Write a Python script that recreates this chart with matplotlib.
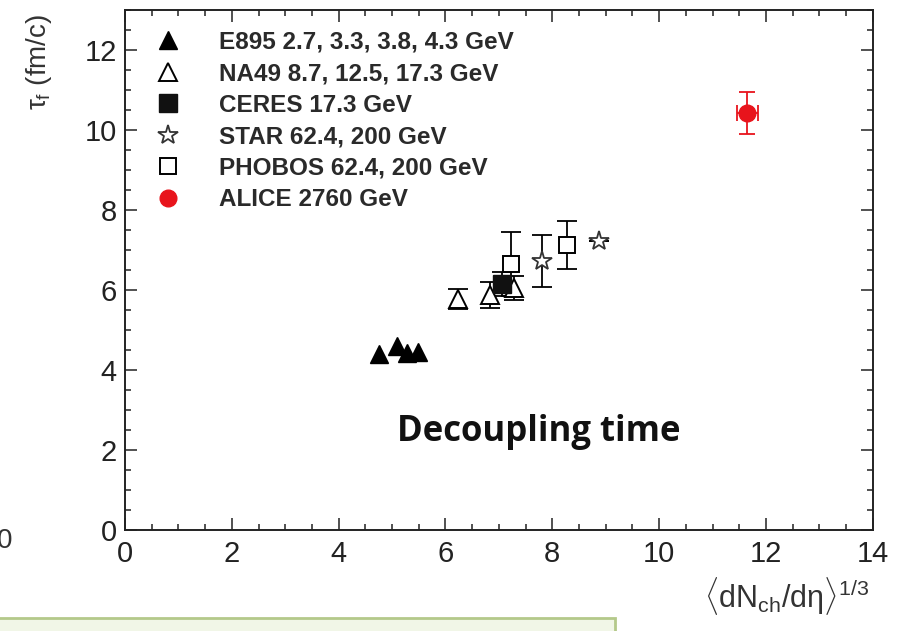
import matplotlib
matplotlib.use('Agg')
import matplotlib.pyplot as plt
from matplotlib.patches import Rectangle
from matplotlib.ticker import MultipleLocator

plt.rcParams['font.family'] = ['Liberation Sans', 'DejaVu Sans']
plt.rcParams['mathtext.fontset'] = 'custom'
plt.rcParams['mathtext.rm'] = 'Liberation Sans'
plt.rcParams['mathtext.it'] = 'Liberation Sans'
plt.rcParams['mathtext.bf'] = 'Liberation Sans:bold'

# ---------- data ----------
e895_x = [4.75, 5.1, 5.28, 5.48]
e895_y = [4.4, 4.6, 4.42, 4.45]

na49_x = [6.24, 6.84, 7.29]
na49_y = [5.78, 5.87, 6.05]
na49_err = [0.25, 0.32, 0.3]

ceres_x = [7.06]
ceres_y = [6.15]
ceres_err = [0.3]

star_x = [7.8, 8.87]
star_y = [6.72, 7.22]
star_err = [0.65, 0.0]

phobos_x = [7.22, 8.27]
phobos_y = [6.65, 7.12]
phobos_err = [0.8, 0.6]

alice_x = [11.65]
alice_y = [10.42]
alice_yerr = [0.52]
alice_xerr = [0.2]

labels = ['E895 2.7, 3.3, 3.8, 4.3 GeV', 'NA49 8.7, 12.5, 17.3 GeV',
          'CERES 17.3 GeV', 'STAR 62.4, 200 GeV', 'PHOBOS 62.4, 200 GeV',
          'ALICE 2760 GeV']
red = '#e8141c'

fig = plt.figure(figsize=(9.01, 6.31), dpi=100)
ax = fig.add_axes([0.1387, 0.160, 0.830, 0.824])

# error bars first
eb = dict(fmt='none', ecolor='k', elinewidth=1.3, capsize=7, capthick=1.3)
ax.errorbar(na49_x, na49_y, yerr=na49_err, **eb)
ax.errorbar(ceres_x, ceres_y, yerr=ceres_err, **eb)
ax.errorbar(star_x, star_y, yerr=star_err, **eb)
ax.errorbar(phobos_x, phobos_y, yerr=phobos_err, **eb)
ax.errorbar(alice_x, alice_y, yerr=alice_yerr, xerr=alice_xerr, fmt='none', ecolor=red,
            elinewidth=1.3, capsize=6, capthick=1.3)

# markers
ax.plot(e895_x, e895_y, '^', color='k', ms=13, ls='none', label=labels[0])
ax.plot(na49_x, na49_y, '^', mfc='white', mec='k', mew=1.4, ms=13, ls='none', label=labels[1])
ax.plot(ceres_x, ceres_y, 's', color='#111111', ms=13, ls='none', label=labels[2])
ax.plot(star_x, star_y, '*', mfc='white', mec='#333333', mew=1.3, ms=15, ls='none', label=labels[3])
ax.plot(phobos_x, phobos_y, 's', mfc='white', mec='k', mew=1.4, ms=12, ls='none', label=labels[4])
ax.plot(alice_x, alice_y, 'o', color=red, ms=12, ls='none', label=labels[5])

ax.set_xlim(0, 14)
ax.set_ylim(0, 13)
ax.xaxis.set_major_locator(MultipleLocator(2))
ax.xaxis.set_minor_locator(MultipleLocator(0.5))
ax.yaxis.set_major_locator(MultipleLocator(2))
ax.yaxis.set_minor_locator(MultipleLocator(0.5))
ax.tick_params(which='both', direction='in', top=True, right=True, width=1.1, color='#222222')
ax.tick_params(which='major', length=8.5, labelsize=21, labelcolor='#222222', pad=6)
ax.tick_params(which='minor', length=4.3)
ax.tick_params(axis='x', which='major', pad=7)
for s in ax.spines.values():
    s.set_linewidth(1.4)
    s.set_color('#222222')

ax.set_ylabel(r'$\tau_{\mathrm{f}}$ (fm/c)', fontsize=20, color='#333333', va='center')
ax.yaxis.set_label_coords(-0.115, 0.9)
ax.set_xlabel(r'$\langle\mathrm{dN}_{\mathrm{ch}}/\mathrm{d}\eta\rangle^{1/3}$', fontsize=22,
              color='#333333', va='top')
ax.xaxis.set_label_coords(0.884, -0.086)

leg = ax.legend(loc='upper left', bbox_to_anchor=(0.041, 0.96), frameon=False,
                prop={'size': 17.5, 'weight': 'bold'}, handlelength=1.0, handletextpad=1.62,
                labelspacing=0.35, borderpad=0, borderaxespad=0, numpoints=1)
for t in leg.get_texts():
    t.set_color('#2a2a2a')

ax.text(7.75, 2.45, 'Decoupling time', fontsize=25, fontweight='bold', family='Open Sans',
        ha='center', va='center', color='#111111')

# remnants of neighbouring content
fig.text(-0.004, 0.143, '0', fontsize=20, color='#333333', ha='left', va='center')
fig.patches.append(Rectangle((-0.01, -0.05), 0.6926, 0.0706, transform=fig.transFigure,
                             facecolor='#f1f6e7', edgecolor='#b4c98a', linewidth=2))

fig.savefig('out.png', dpi=100)
